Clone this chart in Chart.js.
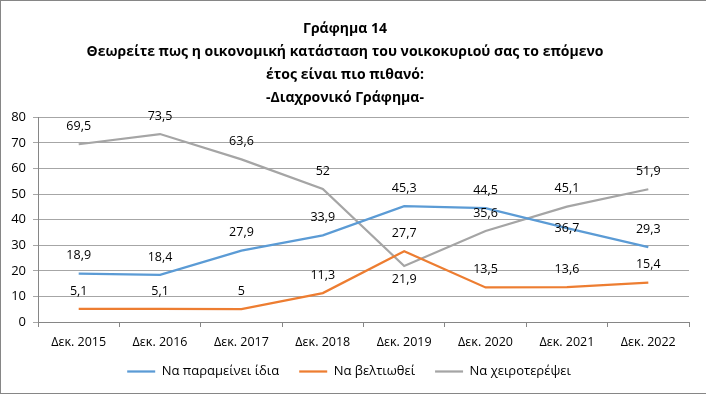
<!DOCTYPE html>
<html>
<head>
<meta charset="utf-8">
<script src="https://cdn.jsdelivr.net/npm/chart.js@4"></script>
<style>
  html, body { margin: 0; padding: 0; background: #fff; overflow: hidden; }
  #wrap { position: relative; width: 706px; height: 394px; box-sizing: border-box; border: 1px solid #868686; border-right: none; }
</style>
</head>
<body>
<div id="wrap"><canvas id="chart"></canvas></div>
<script>
const categories = ['Δεκ. 2015', 'Δεκ. 2016', 'Δεκ. 2017', 'Δεκ. 2018', 'Δεκ. 2019', 'Δεκ. 2020', 'Δεκ. 2021', 'Δεκ. 2022'];
const same = [18.9, 18.4, 27.9, 33.9, 45.3, 44.5, 36.7, 29.3];
const better = [5.1, 5.1, 5, 11.3, 27.7, 13.5, 13.6, 15.4];
const worse = [69.5, 73.5, 63.6, 52, 21.9, 35.6, 45.1, 51.9];
const yTicks = [0, 10, 20, 30, 40, 50, 60, 70, 80];

// where each data label sits relative to its point (Excel-style placement)
const labelPlacement = [
    ['above', 'above', 'above', 'above', 'above', 'above', 'center', 'above'],
    ['above', 'above', 'above', 'above', 'above', 'above', 'above', 'above'],
    ['above', 'above', 'above', 'above', 'below', 'above', 'above', 'above']
];

const FONT = "'Open Sans', 'Noto Sans', sans-serif";

const valueLabels = {
    id: 'valueLabels',
    afterDatasetsDraw(chart) {
        const ctx = chart.ctx;
        ctx.save();
        ctx.font = '12.5px ' + FONT;
        ctx.fillStyle = '#000';
        ctx.textAlign = 'center';
        ctx.textBaseline = 'middle';
        chart.data.datasets.forEach((ds, i) => {
            const meta = chart.getDatasetMeta(i);
            meta.data.forEach((pt, j) => {
                const pos = labelPlacement[i][j];
                let dy = -18;
                if (pos === 'below') dy = 13;
                if (pos === 'center') dy = 0;
                ctx.fillText(String(ds.data[j]).replace('.', ','), pt.x, pt.y + dy);
            });
        });
        ctx.restore();
    }
};

// the Excel legend sits closer to the axis labels
const legendNudge = {
    id: 'legendNudge',
    afterLayout(chart) {
        const lg = chart.legend;
        lg.top -= 13; lg.bottom -= 13;
        lg.left += 4; lg.right += 4;
    }
};

new Chart(document.getElementById('chart'), {
    type: 'line',
    data: {
        labels: categories,
        datasets: [
            { label: 'Να παραμείνει ίδια', data: same, borderColor: '#5b9bd5', backgroundColor: '#5b9bd5', pointBorderColor: '#5b9bd5' },
            { label: 'Να βελτιωθεί', data: better, borderColor: '#ed7d31', backgroundColor: '#ed7d31', pointBorderColor: '#ed7d31' },
            { label: 'Να χειροτερέψει', data: worse, borderColor: '#a5a5a5', backgroundColor: '#a5a5a5', pointBorderColor: '#a5a5a5' }
        ]
    },
    options: {
        responsive: true,
        maintainAspectRatio: false,
        animation: false,
        elements: {
            line: { borderWidth: 2.25, tension: 0 },
            point: { radius: 0, hoverRadius: 0, borderWidth: 2.25 }
        },
        layout: { padding: { left: 0, right: 17, top: 8, bottom: -8 } },
        scales: {
            x: {
                offset: true,
                grid: { offset: true, drawOnChartArea: false, drawTicks: true, tickLength: 5, color: '#868686' },
                border: { color: '#868686' },
                ticks: { color: '#000', font: { family: FONT, size: 12.5 }, padding: 8, maxRotation: 0 }
            },
            y: {
                min: 0,
                max: 80,
                afterFit(axis) { axis.width = 37; },
                afterBuildTicks(axis) { axis.ticks = yTicks.map(v => ({ value: v })); },
                grid: { color: '#a6a6a6', tickLength: 5 },
                border: { color: '#868686' },
                ticks: { color: '#000', font: { family: FONT, size: 13 }, padding: 7 }
            }
        },
        plugins: {
            title: {
                display: true,
                text: ['Γράφημα 14', 'Θεωρείτε πως η οικονομική κατάσταση του νοικοκυριού σας το επόμενο', 'έτος είναι πιο πιθανό:', '-Διαχρονικό Γράφημα-'],
                color: '#000',
                font: { family: FONT, size: 14, weight: 'bold', lineHeight: 1.65 },
                padding: { top: 8, bottom: 8 }
            },
            legend: {
                position: 'bottom',
                labels: {
                    color: '#000',
                    font: { family: FONT, size: 13 },
                    usePointStyle: true,
                    pointStyle: 'line',
                    pointStyleWidth: 28,
                    boxWidth: 28,
                    padding: 20
                }
            },
            tooltip: { enabled: false }
        }
    },
    plugins: [valueLabels, legendNudge]
});
</script>
</body>
</html>
